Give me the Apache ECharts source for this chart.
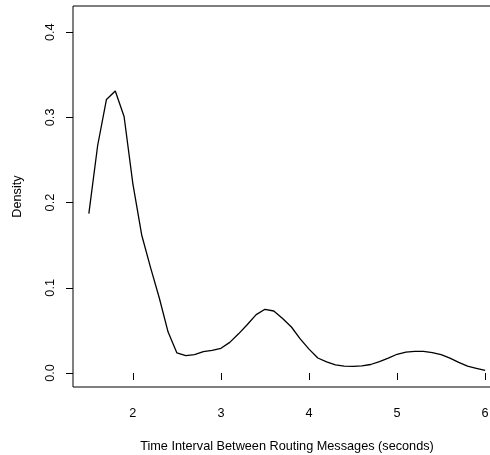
<!DOCTYPE html>
<html>
<head>
<meta charset="utf-8">
<script src="https://cdn.jsdelivr.net/npm/echarts@6/dist/echarts.min.js"></script>
<style>
html,body{margin:0;padding:0;background:#fff;}
#chart{width:490px;height:455px;}
</style>
</head>
<body>
<div id="chart"></div>
<script>
const xValues = [1.5,1.6,1.7,1.8,1.9,2.0,2.1,2.2,2.3,2.4,2.5,2.6,2.7,2.8,2.9,3.0,3.1,3.2,3.3,3.4,3.5,3.6,3.7,3.8,3.9,4.0,4.1,4.2,4.3,4.4,4.5,4.6,4.7,4.8,4.9,5.0,5.1,5.2,5.3,5.4,5.5,5.6,5.7,5.8,5.9,6.0];
const densityValues = [0.187,0.267,0.321,0.331,0.301,0.222,0.162,0.124,0.088,0.048,0.0235,0.0205,0.0215,0.025,0.0266,0.029,0.036,0.046,0.057,0.0685,0.0748,0.0728,0.064,0.054,0.040,0.028,0.0176,0.013,0.0095,0.0082,0.0079,0.0085,0.010,0.0135,0.0175,0.022,0.0245,0.0255,0.0255,0.024,0.0215,0.0175,0.0125,0.008,0.0055,0.003];
const xTicks = [2,3,4,5,6];
const yTicks = [0.0,0.1,0.2,0.3,0.4];
const xTitle = 'Time Interval Between Routing Messages (seconds)';
const yTitle = 'Density';

const chart = echarts.init(document.getElementById('chart'), null, {renderer:'canvas'});
const font = 'Liberation Sans, Arial, Helvetica, sans-serif';
const fs = 12.7;
chart.setOption({
  animation:false,
  backgroundColor:'#fff',
  grid:{left:73, top:6, width:428, height:381, outerBoundsMode:'none', containLabel:false, show:true, borderColor:'#000', borderWidth:1, backgroundColor:'transparent'},
  xAxis:{
    type:'value', min:1.32, max:6.18,
    splitLine:{show:false},
    axisLine:{show:false},
    axisTick:{show:true, customValues:xTicks, length:7, inside:false, lineStyle:{color:'#000', width:1}},
    axisLabel:{customValues:xTicks, margin:20, color:'#000', fontSize:fs, fontFamily:font, formatter:v=>String(v)},
    name:xTitle, nameLocation:'middle', nameGap:53,
    nameTextStyle:{color:'#000', fontSize:fs, fontFamily:font}
  },
  yAxis:{
    type:'value', min:-0.0164, max:0.4307,
    splitLine:{show:false},
    axisLine:{show:false},
    axisTick:{show:true, customValues:yTicks, length:7, inside:false, lineStyle:{color:'#000', width:1}},
    axisLabel:{customValues:yTicks, rotate:90, margin:16, color:'#000', fontSize:fs, fontFamily:font, formatter:v=>v.toFixed(1)},
    name:yTitle, nameLocation:'middle', nameGap:49, nameRotate:90,
    nameTextStyle:{color:'#000', fontSize:fs, fontFamily:font}
  },
  series:[{
    type:'line',
    data:xValues.map((x,i)=>[x,densityValues[i]]),
    symbol:'none', smooth:false,
    lineStyle:{color:'#000', width:1.3}
  }]
});
</script>
</body>
</html>
